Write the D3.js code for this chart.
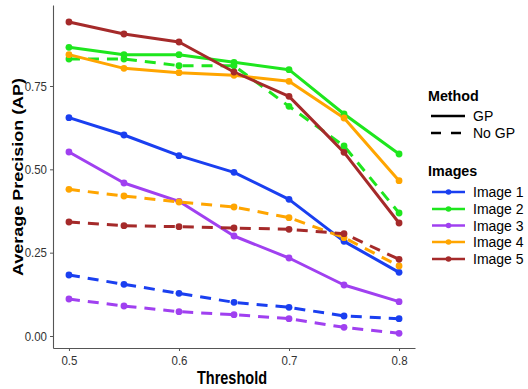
<!DOCTYPE html>
<html>
<head>
<meta charset="utf-8">
<script src="https://cdn.jsdelivr.net/npm/d3@7/dist/d3.min.js"></script>
<style>
  html, body { margin: 0; padding: 0; background: #fff; }
  svg { display: block; }
  text { font-family: "Liberation Sans", Arial, sans-serif; }
</style>
</head>
<body>
<svg id="chart" width="528" height="389"></svg>
<script>
// Detection thresholds on the x axis
const thresholds = [0.5, 0.55, 0.6, 0.65, 0.7, 0.75, 0.8];

// Image names and colours
const images = ["Image 1", "Image 2", "Image 3", "Image 4", "Image 5"];
const imageColors = ["#1a3ff0", "#1ee61e", "#a040f0", "#ffa500", "#a52a2a"];

// Methods
const methods = ["GP", "No GP"];

// Average precision with GP, per image
const apGP1 = [0.655, 0.603, 0.541, 0.491, 0.410, 0.284, 0.191];
const apGP2 = [0.866, 0.844, 0.844, 0.821, 0.799, 0.666, 0.546];
const apGP3 = [0.552, 0.459, 0.404, 0.300, 0.234, 0.153, 0.103];
const apGP4 = [0.844, 0.803, 0.790, 0.782, 0.764, 0.654, 0.466];
const apGP5 = [0.942, 0.906, 0.882, 0.792, 0.719, 0.551, 0.339];

// Average precision without GP, per image
const apNoGP1 = [0.183, 0.155, 0.128, 0.101, 0.086, 0.060, 0.052];
const apNoGP2 = [0.831, 0.831, 0.811, 0.811, 0.689, 0.570, 0.369];
const apNoGP3 = [0.111, 0.090, 0.073, 0.064, 0.052, 0.026, 0.008];
const apNoGP4 = [0.440, 0.420, 0.402, 0.387, 0.355, 0.295, 0.210];
const apNoGP5 = [0.342, 0.331, 0.328, 0.324, 0.320, 0.307, 0.230];

// Axis ticks
const xTicks = [0.5, 0.6, 0.7, 0.8];
const xTickLabels = ["0.5", "0.6", "0.7", "0.8"];
const yTicks = [0, 0.25, 0.5, 0.75];
const yTickLabels = ["0.00", "0.25", "0.50", "0.75"];

const gpSeries = [apGP1, apGP2, apGP3, apGP4, apGP5];
const noGpSeries = [apNoGP1, apNoGP2, apNoGP3, apNoGP4, apNoGP5];

// Build one record per line: image x method
const series = [];
images.forEach((name, i) => {
  series.push({ image: name, color: imageColors[i], method: "GP", values: gpSeries[i] });
  series.push({ image: name, color: imageColors[i], method: "No GP", values: noGpSeries[i] });
});

const svg = d3.select("#chart");
const panel = { left: 53, right: 415, top: 5, bottom: 348 };

const x = d3.scaleLinear().domain([0.4855, 0.8145]).range([panel.left, panel.right]);
const y = d3.scaleLinear().domain([-0.036, 0.993]).range([panel.bottom, panel.top]);

const dashFor = m => m === "GP" ? null : "11,8";

// Lines
const line = d3.line().x((d, i) => x(thresholds[i])).y(d => y(d));
svg.append("g").selectAll("path").data(series).join("path")
  .attr("d", s => line(s.values))
  .attr("fill", "none")
  .attr("stroke", s => s.color)
  .attr("stroke-width", 3)
  .attr("stroke-linejoin", "round")
  .attr("stroke-dasharray", s => dashFor(s.method));

// Points
const pts = svg.append("g");
series.forEach(s => {
  pts.selectAll(null).data(s.values).join("circle")
    .attr("cx", (d, i) => x(thresholds[i]))
    .attr("cy", d => y(d))
    .attr("r", 3.4)
    .attr("fill", s.color);
});

// Axes
const axisColor = "#555";
const xAxis = svg.append("g").attr("transform", `translate(0,${panel.bottom})`)
  .call(d3.axisBottom(x).tickValues(xTicks).tickFormat((d, i) => xTickLabels[i]).tickSizeInner(3).tickSizeOuter(0).tickPadding(4));
const yAxis = svg.append("g").attr("transform", `translate(${panel.left},0)`)
  .call(d3.axisLeft(y).tickValues(yTicks).tickFormat((d, i) => yTickLabels[i]).tickSizeInner(3).tickSizeOuter(0).tickPadding(3));
[xAxis, yAxis].forEach(a => {
  a.select(".domain").attr("stroke", axisColor).attr("stroke-width", 1.1);
  a.selectAll(".tick line").attr("stroke", axisColor);
  a.selectAll(".tick text").attr("fill", "#333").attr("font-size", 11.5)
    .attr("font-family", "'Liberation Sans', Arial, sans-serif");
});
// slightly tall tick glyphs
xAxis.selectAll(".tick text").attr("transform", "scale(1,1.12)").attr("y", 7).attr("dy", "0.71em");
yAxis.selectAll(".tick text").attr("transform", "scale(1,1.12)").attr("dy", "0.32em")
  .each(function () {
    const t = d3.select(this.parentNode).attr("transform");
    const ty = +t.match(/,([-\d.]+)\)/)[1];
    d3.select(this.parentNode).attr("transform", `translate(0,${ty})`);
  });

// Axis titles
svg.append("text")
  .attr("transform", "translate(232,384) scale(1,1.24)")
  .attr("text-anchor", "middle")
  .attr("font-weight", "bold").attr("font-size", 14.5).attr("fill", "#000")
  .text("Threshold");
svg.append("text")
  .attr("transform", "translate(23,177) rotate(-90) scale(1.24,1)")
  .attr("text-anchor", "middle")
  .attr("font-weight", "bold").attr("font-size", 14.5).attr("fill", "#000")
  .text("Average Precision (AP)");

// Legend: Method
const lg = svg.append("g");
lg.append("text").attr("x", 428).attr("y", 101)
  .attr("font-weight", "bold").attr("font-size", 14.3).text("Method");
const methodY = [116, 133];
methods.forEach((m, i) => {
  lg.append("line").attr("x1", 431).attr("x2", m === "GP" ? 465 : 465)
    .attr("y1", methodY[i]).attr("y2", methodY[i])
    .attr("stroke", "#000").attr("stroke-width", 2.6)
    .attr("stroke-dasharray", m === "GP" ? null : "10,10");
  lg.append("text").attr("x", 473).attr("y", methodY[i]).attr("dy", "0.36em")
    .attr("font-size", 14).text(m);
});

// Legend: Images
lg.append("text").attr("x", 428).attr("y", 176)
  .attr("font-weight", "bold").attr("font-size", 14.3).text("Images");
const imageY = [192, 209, 225.5, 242, 259];
images.forEach((name, i) => {
  lg.append("line").attr("x1", 432).attr("x2", 465)
    .attr("y1", imageY[i]).attr("y2", imageY[i])
    .attr("stroke", imageColors[i]).attr("stroke-width", 2.4);
  lg.append("circle").attr("cx", 448.5).attr("cy", imageY[i]).attr("r", 2.8).attr("fill", imageColors[i]);
  lg.append("text").attr("x", 473).attr("y", imageY[i]).attr("dy", "0.36em")
    .attr("font-size", 14).text(name);
});
</script>
</body>
</html>
